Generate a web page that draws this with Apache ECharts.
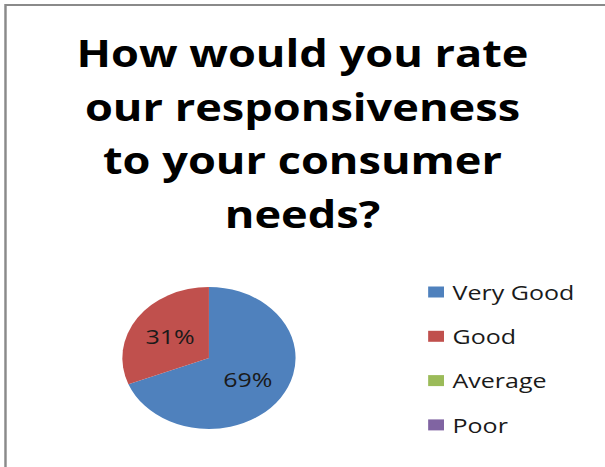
<!DOCTYPE html>
<html>
<head>
<meta charset="utf-8">
<script src="https://cdn.jsdelivr.net/npm/echarts@6/dist/echarts.min.js"></script>
<style>
  html, body { margin: 0; padding: 0; background: #ffffff; overflow: hidden; }
  /* the chart is laid out on a narrower canvas and widened to fill the window */
  #chart { width: 496px; height: 467px; transform: scaleX(1.2198); transform-origin: 0 0; }
</style>
</head>
<body>
<div id="chart"></div>
<script>
const titleLines = ['How would you rate', 'our responsiveness', 'to your consumer', 'needs?'];
const categories = ['Very Good', 'Good', 'Average', 'Poor'];
const values = [69, 31, 0, 0];
const colors = ['#4F81BD', '#C0504D', '#9BBB59', '#8064A2'];

const chart = echarts.init(document.getElementById('chart'), null, { renderer: 'svg' });

const pieData = categories.map((name, i) => ({ name: name, value: values[i] }));

chart.setOption({
  animation: false,
  color: colors,
  title: {
    text: titleLines.join('\n'),
    left: 'center',
    top: 26,
    padding: [0, 0, 0, 9],
    textStyle: {
      fontFamily: 'Open Sans',
      fontWeight: 'bold',
      fontSize: 37,
      lineHeight: 53.5,
      color: '#000000'
    }
  },
  legend: {
    orient: 'vertical',
    left: 351,
    top: 281,
    padding: 0,
    itemWidth: 13,
    itemHeight: 11,
    itemGap: 22.3,
    icon: 'rect',
    selectedMode: false,
    data: categories,
    textStyle: {
      fontFamily: 'Open Sans',
      fontSize: 20.5,
      lineHeight: 22,
      color: '#1a1a1a',
      padding: [0, 0, 0, 2]
    }
  },
  graphic: [{
    type: 'polyline',
    shape: { points: [[4.5, 467], [4.5, 5], [496, 5]] },
    style: { stroke: '#8a8a8a', lineWidth: 2, fill: null },
    silent: true
  }],
  series: [{
    type: 'pie',
    center: [171.3, 358],
    radius: 71,
    startAngle: 90,
    clockwise: true,
    data: pieData,
    itemStyle: { borderWidth: 0 },
    label: {
      position: 'inside',
      fontFamily: 'Open Sans',
      fontSize: 20.5,
      color: '#1a1a1a',
      formatter: p => (p.value > 0 ? p.percent + '%' : '')
    },
    labelLine: { show: false },
    emphasis: { disabled: true }
  }]
});
</script>
</body>
</html>
